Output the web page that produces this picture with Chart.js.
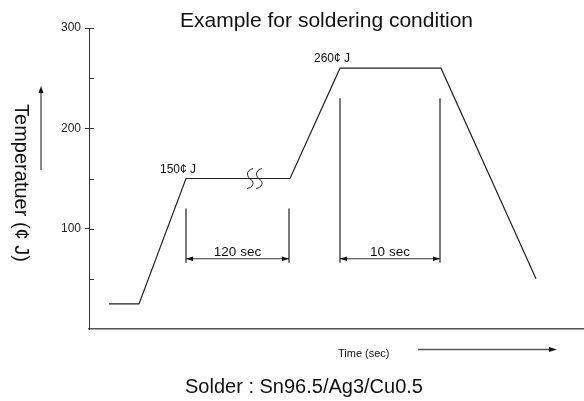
<!DOCTYPE html>
<html><head><meta charset="utf-8">
<script src="https://cdn.jsdelivr.net/npm/chart.js@4.4.1/dist/chart.umd.min.js"></script>
<style>html,body{margin:0;padding:0;background:#fff}canvas{display:block}</style>
</head><body>
<canvas id="c" width="584" height="401"></canvas>
<script>
// ---- data ----
const profileTime = [20, 50, 97, 201, 251, 352, 447];
const profileTemp = [25, 25, 150, 150, 260, 260, 50];
const yTickValues = [50, 100, 150, 200, 250, 300];
const peakTimes = [97, 251];
const peakTemps = [150, 260];
const peakLabels = ['150\u00a2 J', '260\u00a2 J'];
const spanStart = [97, 251];
const spanEnd = [200, 351];
const spanTop = [120, 230];
const spanBottom = [66, 66];
const spanArrow = [70, 70];
const spanLabels = ['120 sec', '10 sec'];
const breakTime = [166];
const breakTemp = [150];
const titleText = 'Example for soldering condition';
const footText = 'Solder : Sn96.5/Ag3/Cu0.5';
const yTitle = 'Temperatuer (\u00a2 J)';
const xTitle = 'Time (sec)';

const FONT = "'Liberation Sans', Arial, Helvetica, sans-serif";
const LINE = '#222';

const datasets = [{
  data: profileTime.map((t, i) => ({x: t, y: profileTemp[i]})),
  borderColor: LINE, borderWidth: 1.2, pointRadius: 0, tension: 0
}];
spanStart.forEach((s, i) => {
  const e = spanEnd[i];
  [s, e].forEach(x => datasets.push({
    data: [{x: x, y: spanBottom[i]}, {x: x, y: spanTop[i]}],
    borderColor: LINE, borderWidth: 1.2, pointRadius: 0
  }));
  datasets.push({
    data: [{x: s, y: spanArrow[i]}, {x: e, y: spanArrow[i]}],
    borderColor: '#333', borderWidth: 1.2, pointRadius: 0
  });
});

function arrowHead(ctx, x, y, dx, dy, len, half) {
  const nx = -dy, ny = dx;
  ctx.beginPath();
  ctx.moveTo(x, y);
  ctx.lineTo(x - dx * len + nx * half, y - dy * len + ny * half);
  ctx.lineTo(x - dx * len - nx * half, y - dy * len - ny * half);
  ctx.closePath();
  ctx.fill();
}

const decor = {
  id: 'decor',
  afterDraw(chart) {
    const ctx = chart.ctx, xs = chart.scales.x, ys = chart.scales.y;
    const area = chart.chartArea;
    ctx.save();
    // inner ticks on y axis
    ctx.strokeStyle = '#333'; ctx.lineWidth = 1;
    yTickValues.forEach(v => {
      const py = Math.round(ys.getPixelForValue(v)) + 0.5;
      ctx.beginPath(); ctx.moveTo(area.left, py); ctx.lineTo(area.left + 5, py); ctx.stroke();
    });
    // span arrowheads and labels
    ctx.fillStyle = '#111';
    spanStart.forEach((s, i) => {
      const y = ys.getPixelForValue(spanArrow[i]);
      const x0 = xs.getPixelForValue(s), x1 = xs.getPixelForValue(spanEnd[i]);
      arrowHead(ctx, x0, y, -1, 0, 7, 2.2);
      arrowHead(ctx, x1, y, 1, 0, 7, 2.2);
      ctx.font = '13.5px ' + FONT; ctx.textAlign = 'center'; ctx.textBaseline = 'alphabetic';
      ctx.fillText(spanLabels[i], (x0 + x1) / 2, y - 3);
    });
    // peak labels
    ctx.font = '12px ' + FONT; ctx.textAlign = 'center';
    peakTimes.forEach((t, i) => {
      ctx.fillText(peakLabels[i], xs.getPixelForValue(t) - 8, ys.getPixelForValue(peakTemps[i]) - 6);
    });
    // break mark
    ctx.strokeStyle = '#222'; ctx.lineWidth = 1;
    breakTime.forEach((t, i) => {
      const cx = xs.getPixelForValue(t), cy = ys.getPixelForValue(breakTemp[i]);
      [-5, 4].forEach(o => {
        const x = cx + o;
        ctx.beginPath();
        ctx.moveTo(x + 3, cy - 10);
        ctx.bezierCurveTo(x - 5, cy - 8, x - 3, cy - 1, x + 1, cy + 1);
        ctx.bezierCurveTo(x + 5, cy + 4, x + 3, cy + 9, x - 3, cy + 10);
        ctx.stroke();
      });
    });
    // title & footer
    ctx.fillStyle = '#111';
    ctx.font = '21px ' + FONT; ctx.textAlign = 'center'; ctx.textBaseline = 'alphabetic';
    ctx.fillText(titleText, 326.5, 27);
    ctx.font = '20px ' + FONT;
    ctx.fillText(footText, 304, 393);
    // y title rotated clockwise
    ctx.save();
    ctx.translate(15, 183);
    ctx.rotate(Math.PI / 2);
    ctx.fillText(yTitle, 0, 0);
    ctx.restore();
    // y arrow
    ctx.strokeStyle = '#666'; ctx.lineWidth = 1.5;
    ctx.beginPath(); ctx.moveTo(41, 170); ctx.lineTo(41, 90); ctx.stroke();
    ctx.fillStyle = '#111';
    arrowHead(ctx, 41, 86, 0, -1, 7, 2.5);
    // x title + arrow
    ctx.font = '11px ' + FONT; ctx.textAlign = 'left';
    ctx.fillText(xTitle, 338, 357);
    ctx.strokeStyle = '#555'; ctx.lineWidth = 1.3;
    ctx.beginPath(); ctx.moveTo(418, 349.5); ctx.lineTo(551, 349.5); ctx.stroke();
    arrowHead(ctx, 557, 349.5, 1, 0, 8, 2.5);
    ctx.restore();
  }
};

new Chart(document.getElementById('c'), {
  type: 'line',
  data: {datasets},
  options: {
    responsive: false,
    animation: false,
    layout: {padding: {left: 0, top: 28, right: 0, bottom: 0}},
    plugins: {legend: {display: false}, tooltip: {enabled: false}, title: {display: false}},
    scales: {
      x: {
        type: 'linear', min: 0, max: 495,
        ticks: {display: false},
        grid: {display: false},
        border: {display: true, color: '#555', width: 1.5},
        afterFit: s => { s.height = 72; }
      },
      y: {
        min: 0, max: 300,
        ticks: {
          stepSize: 50, padding: 4, color: '#222',
          font: {family: FONT, size: 12},
          callback: v => (v % 100 === 0 && v > 0) ? String(v) : ''
        },
        grid: {
          drawOnChartArea: false, tickLength: 4,
          color: c => (c.tick && c.tick.value % 100 === 0 && c.tick.value > 0) ? '#333' : 'rgba(0,0,0,0)'
        },
        border: {display: true, color: '#333', width: 1},
        afterFit: s => { s.width = 89; }
      }
    }
  },
  plugins: [decor]
});
</script>
</body></html>
